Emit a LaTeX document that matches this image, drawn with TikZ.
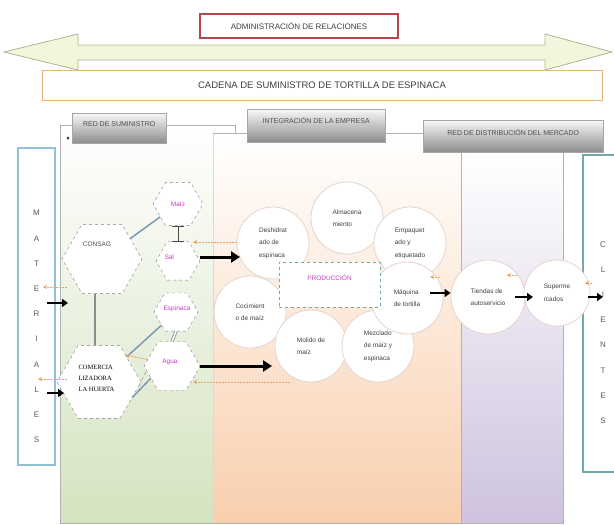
\documentclass[tikz,border=0pt]{standalone}
\usepackage{fontspec}
\setmainfont{Liberation Sans}
\newfontfamily\timesfont{Liberation Serif}
\usetikzlibrary{arrows.meta,shapes.geometric,positioning}
\definecolor{suRed}{HTML}{B5474F}
\definecolor{suArrowFill}{HTML}{F2F6DC}
\definecolor{suArrowLine}{HTML}{A8B890}
\definecolor{suChainLine}{HTML}{EDB47A}
\definecolor{suGreen}{HTML}{D4E3C0}
\definecolor{suPeach}{HTML}{F9CFAE}
\definecolor{suLilac}{HTML}{CEC2DE}
\definecolor{suBlue}{HTML}{8FC2D8}
\definecolor{suTeal}{HTML}{6FA9A9}
\definecolor{suMagenta}{HTML}{C23FC2}
\definecolor{suOrange}{HTML}{E8A35E}
\definecolor{suLink}{HTML}{7C98B4}
\definecolor{suCircle}{HTML}{E6D4CC}
\tikzset{
  rel arrow/.style={draw=suArrowLine, fill=suArrowFill, line width=0.8pt},
  title box/.style={draw=suRed, line width=1.5pt, fill=white,
    font=\fontsize{8}{9}\selectfont, text=black!75},
  chain box/.style={draw=suChainLine, line width=1pt, fill=white,
    font=\fontsize{9.5}{10}\selectfont, text=black!75},
  head box/.style={draw=black!35, top color=black!3, bottom color=black!45,
    inner sep=0pt},
  head text/.style={font=\fontsize{7}{8}\selectfont, text=black!70},
  head link/.style={draw=black!30, line width=0.5pt},
  side box/.style={draw=suBlue, line width=1.2pt, fill=white, inner sep=0pt},
  side letters/.style={font=\fontsize{8}{25.2}\selectfont, text=black!65,
    align=center},
  hexa/.style={regular polygon, regular polygon sides=6, draw=black!50,
    dashed, fill=white, inner sep=0pt},
  input name/.style={font=\fontsize{6.5}{7}\selectfont, text=suMagenta},
  stage/.style={circle, draw=suCircle, line width=0.8pt, fill=white,
    minimum size=72pt, inner sep=0pt, align=left,
    font=\fontsize{6.5}{12.5}\selectfont, text=black!75},
  big flow/.style={-{Triangle[length=9pt,width=11pt]}, line width=3pt},
  small flow/.style={-{Triangle[length=6pt,width=8pt]}, line width=2.2pt},
  info flow/.style={-{Stealth[length=4pt,width=4pt]}, draw=suOrange,
    line width=0.9pt, dash pattern=on 2pt off 1pt},
  link/.style={draw=suLink, line width=1.5pt}
}
\begin{document}
\begin{tikzpicture}[x=1pt,y=-1pt]
  \useasboundingbox (0,0) rectangle (614,525);

  % barra de relaciones
  \draw[rel arrow] (4,52) -- (78,34) -- (78,45) -- (545,45) -- (545,34)
    -- (612,52) -- (545,70) -- (545,60) -- (78,60) -- (78,70) -- cycle;
  \node[title box, minimum width=198pt, minimum height=24pt] (admin)
    at (299,26) {ADMINISTRACIÓN DE RELACIONES};
  \node[chain box, minimum width=560pt, minimum height=30pt] (chain)
    at (322,85) {CADENA DE SUMINISTRO DE TORTILLA DE ESPINACA};

  % columnas
  \shade[top color=white, bottom color=suGreen] (60,125) rectangle (213,523);
  \shade[top color=white, bottom color=suPeach] (213,133) rectangle (461,523);
  \shade[top color=white, bottom color=suLilac] (461,152) rectangle (563,523);
  \coordinate (g0) at (60,125);
  \coordinate (o0) at (213,133);
  \coordinate (p0) at (461,152);
  \draw[head link] (g0) -- (60,523) -- (563,523) -- (563,152);
  \draw[draw=black!15] (o0) -- (213,523);
  \draw[head link] (p0) -- (461,523);

  \node[head box, minimum width=94pt, minimum height=30pt, anchor=north west,
    label={[head text, anchor=north, yshift=-5pt]north:RED DE SUMINISTRO}]
    (supbox) at (72,113) {};
  \node[head box, minimum width=138pt, minimum height=33pt, anchor=north west,
    label={[head text, anchor=north, yshift=-5pt]north:INTEGRACIÓN DE LA EMPRESA}]
    (intbox) at (247,109) {};
  \node[head box, minimum width=180pt, minimum height=32pt, anchor=north west,
    label={[head text, anchor=north, yshift=-6pt]north:RED DE DISTRIBUCIÓN DEL MERCADO}]
    (disbox) at (423,120) {};
  \draw[head link] (g0) -- (supbox.west |- g0);
  \draw[head link] (supbox.east |- g0) -- (235,125) |- (intbox.west |- o0);
  \draw[head link] (o0) -- (intbox.west |- o0);
  \draw[head link] (intbox.east |- o0) -- (disbox.west |- o0);
  \fill[black!80] (68,138) circle (1.5);

  % materiales y clientes
  \node[side box, minimum width=37pt, minimum height=317pt,
    label={[side letters, yshift=-20pt]center:M\\A\\T\\E\\R\\I\\A\\L\\E\\S}]
    (materiales) at (36.5,306.5) {};
  \node[side box, draw=suTeal, minimum width=40pt, minimum height=317pt,
    label={[side letters, yshift=-19pt]center:C\\L\\I\\E\\N\\T\\E\\S}]
    (clientes) at (603,313.5) {};

  % red de suministro
  \node[hexa, minimum size=80pt,
    label={[font=\fontsize{6.5}{7}\selectfont, text=black!70, xshift=-5pt,
      yshift=15pt]center:CONSAG}] (consag) at (102,259) {};
  \node[hexa, minimum size=50pt] (maiz) at (178,204) {};
  \node[input name] (maiztxt) at (maiz) {Maíz};
  \node[hexa, minimum size=44pt] (sal) at (178,261) {};
  \node[input name, anchor=west] (saltxt) at (161,257) {Sal};
  \node[hexa, minimum size=44pt] (espinaca) at (176,312) {};
  \node[input name] (espinacatxt) at (177,309) {Espinaca};
  \node[hexa, minimum size=56pt] (agua) at (172,366) {};
  \node[input name] (aguatxt) at (170,362) {Agua};
  \node[hexa, minimum size=84pt] (huerta) at (99,382) {};
  \node[font=\timesfont\fontsize{6.5}{11}\selectfont, align=left, anchor=west]
    (huertatxt) at (75,378) {COMERCIA\\LIZADORA\\LA HUERTA};

  \draw[link] (consag) -- (maiz);
  \draw[draw=black!70, line width=0.8pt, {Bar[width=12pt]}-{Bar[width=12pt]}]
    (maiz.south) -- (sal.north);
  \draw[draw=black!45, line width=0.8pt, double, double distance=1.5pt]
    (espinaca.south) -- (agua.north);
  \draw[draw=black!45, line width=2pt] (consag.south -| 95,0) -- (huerta.north -| 95,0);
  \draw[link] (huerta) -- (espinaca);
  \draw[link] (huerta.-25) -- (agua.-150);
  \draw[draw=black!40, dashed, line width=0.6pt] (huerta.-5) -- (agua.-170);
  \draw[info flow] (agua.165) -- (huerta.45);

  % produccion
  \node[stage] (desh) at (273,243) {Deshidrat\\ado de\\espinaca};
  \node[stage] (alma) at (347,218) {Almacena\\miento};
  \node[stage] (empa) at (410,243) {Empaquet\\ado y\\etiquetado};
  \node[stage] (coci) at (250,312) {Cocimient\\o de maíz};
  \node[stage] (moli) at (311,346) {Molido de\\maíz};
  \node[stage] (mezc) at (378,346) {Mezclado\\de maíz y\\espinaca};
  \node[stage] (maqu) at (407,298) {Máquina\\de tortilla};
  \node[draw=suTeal, dashed, line width=0.8pt, fill=white, minimum width=101pt,
    minimum height=45pt, label={[input name, anchor=north, yshift=-10pt]north:PRODUCCIÓN}]
    (prod) at (329.5,284.5) {};

  % distribucion
  \node[stage, minimum size=74pt] (tiendas) at (488,297) {Tiendas de\\autoservicio};
  \node[stage, minimum size=66pt] (super) at (557,293) {Superme\\rcados};

  % flujos
  \coordinate (m1) at (68,303);
  \coordinate (m2) at (64,393);
  \draw[small flow] (47,303) -- (m1);
  \draw[small flow] (47,393) -- (m2);
  \draw[info flow] (67,287) -- (43,287);
  \draw[info flow] (67,379) -- (38,379);
  \draw[big flow] (sal.east |- 0,257) -- (240,257);
  \draw[big flow] (agua.east |- 0,366) -- (272,366);
  \coordinate (o1) at (290,382);
  \draw[info flow] (desh.west |- 0,242) -- (193,242);
  \draw[info flow] (o1) -- (193,382);
  \draw[small flow] (430,293) -- (tiendas.west |- 0,293);
  \draw[small flow] (515,297) -- (533,297);
  \draw[small flow] (588,297) -- (603,297);
  \draw[info flow] (440,277) -- (430,277);
  \draw[info flow] (517,275) -- (507,275);
  \draw[info flow] (592,283) -- (585,283);
\end{tikzpicture}
\end{document}
